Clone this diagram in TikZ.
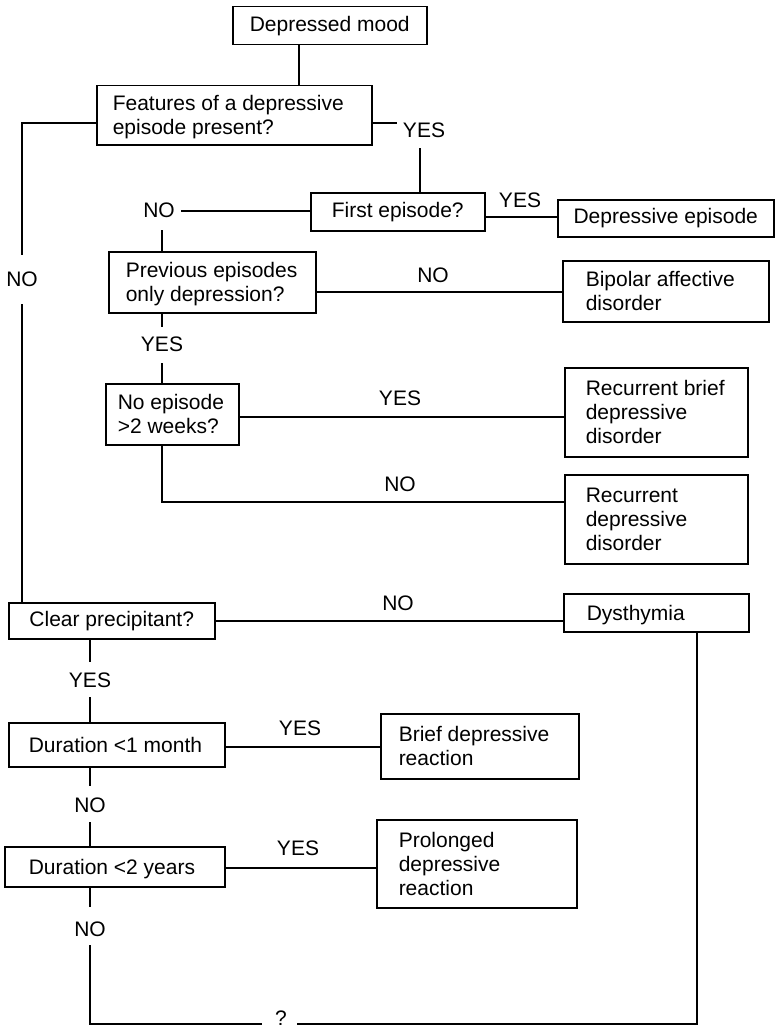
\documentclass[tikz,border=0pt]{standalone}
\usepackage{fontspec}
\setmainfont{Liberation Sans}
% box with left-aligned lines: name, x1, y1, x2, y2, left padding, lines
\newcommand{\fcbox}[7]{%
  \node[fcb, minimum width={(#4)-(#2)}, minimum height={(#5)-(#3)}] (#1) at (#2,#3)
    {\raisebox{-2.7pt}[\height][\depth]{\makebox[\dimexpr #4pt-#2pt-#6pt-#6pt\relax][l]{\begin{tabular}{@{}l@{}}#7\end{tabular}}}};}
% box with one centred line: name, x1, y1, x2, y2, text
\newcommand{\fcboxc}[6]{%
  \node[fcb, minimum width={(#4)-(#2)}, minimum height={(#5)-(#3)}] (#1) at (#2,#3) {#6};}
\begin{document}
\begin{tikzpicture}[x=1pt,y=-1pt,
  every node/.style={font=\fontsize{21pt}{24pt}\selectfont},
  fcb/.style={draw, line width=1.5pt, rectangle, inner sep=0pt, anchor=north west},
  lbl/.style={inner sep=0pt},
  conn/.style={line width=1.5pt}]
\useasboundingbox[fill=white] (0,0) rectangle (777,1030);

% ---- boxes ----
\fcboxc{mood}{232}{6}{426}{44}{Depressed mood}
\fcbox{feat}{96}{85}{371}{144}{16}{Features of a depressive\\episode present?}
\fcboxc{first}{310}{192}{484}{230}{First episode?}
\fcboxc{depep}{557}{199}{773}{236}{Depressive episode}
\fcbox{prev}{108}{251}{315}{312}{17}{Previous episodes\\only depression?}
\fcbox{bip}{562}{260}{768}{321}{23}{Bipolar affective\\disorder}
\fcbox{noep}{105}{383}{238}{444}{12}{No episode\\>2 weeks?}
\fcbox{recb}{564}{367}{747}{456}{21}{Recurrent brief\\depressive\\disorder}
\fcbox{recd}{564}{474}{747}{563}{21}{Recurrent\\depressive\\disorder}
\fcboxc{clear}{8}{602}{214}{638}{Clear precipitant?}
\fcbox{dys}{563}{593}{748}{631}{23}{Dysthymia}
\fcbox{dur1}{8}{722}{224}{766}{20}{Duration <1 month}
\fcbox{brief}{380}{713}{578}{778}{18}{Brief depressive\\reaction}
\fcbox{dur2}{4}{846}{224}{886}{24}{Duration <2 years}
\fcbox{prol}{376}{819}{576}{907}{22}{Prolonged\\depressive\\reaction}

% ---- branch labels ----
\node[lbl] (noL)   at (22,279)  {NO};
\node[lbl] (yesF)  at (424,130) {YES};
\node[lbl] (noF)   at (159,210) {NO};
\node[lbl] (yesE)  at (520,200) {YES};
\node[lbl] (noP)   at (433,275) {NO};
\node[lbl] (yesP)  at (162,344) {YES};
\node[lbl] (yesN)  at (400,398) {YES};
\node[lbl] (noN)   at (400,484) {NO};
\node[lbl] (noC)   at (398,603) {NO};
\node[lbl] (yesC)  at (90,680)  {YES};
\node[lbl] (yesD1) at (300,728) {YES};
\node[lbl] (noD1)  at (90,805)  {NO};
\node[lbl] (yesD2) at (298,848) {YES};
\node[lbl] (noD2)  at (90,929)  {NO};
\node[lbl] (qm)    at (281,1018) {?};

% ---- bend and end points ----
\coordinate (xM)  at (299,0);
\coordinate (pL1) at (22,123);
\coordinate (pL2) at (22,255);
\coordinate (pL3) at (22,304);
\coordinate (pR1) at (397,123);
\coordinate (pR2) at (420,148);
\coordinate (pF1) at (181,211);
\coordinate (pF2) at (162,230);
\coordinate (pE)  at (0,217);
\coordinate (pP)  at (0,292);
\coordinate (pP1) at (162,327);
\coordinate (pP2) at (162,363);
\coordinate (pN)  at (0,417);
\coordinate (pN2) at (162,502);
\coordinate (pC1) at (90,662);
\coordinate (pC2) at (90,697);
\coordinate (pD1) at (0,747);
\coordinate (pD2) at (90,786);
\coordinate (pD3) at (90,822);
\coordinate (pD4) at (0,868);
\coordinate (pD5) at (90,907);
\coordinate (pD6) at (90,945);
\coordinate (pB1) at (90,1024);
\coordinate (pB2) at (262,1024);
\coordinate (pB3) at (297,1024);
\coordinate (pB4) at (697,1024);

% ---- connectors ----
\draw[conn] (mood.south -| xM) -- (feat.north -| xM);
\draw[conn] (feat.west |- pL1) -- (pL1) -- (pL2);
\draw[conn] (pL3) -- (clear.north -| pL3);
\draw[conn] (feat.east |- pR1) -- (pR1);
\draw[conn] (pR2) -- (first.north -| pR2);
\draw[conn] (pF1) -- (first.west |- pF1);
\draw[conn] (pF2) -- (prev.north -| pF2);
\draw[conn] (first.east |- pE) -- (depep.west |- pE);
\draw[conn] (prev.east |- pP) -- (bip.west |- pP);
\draw[conn] (prev.south -| pP1) -- (pP1);
\draw[conn] (pP2) -- (noep.north -| pP2);
\draw[conn] (noep.east |- pN) -- (recb.west |- pN);
\draw[conn] (noep.south -| pN2) -- (pN2) -- (recd.west |- pN2);
\draw[conn] (clear.east) -- (dys.west |- clear.east);
\draw[conn] (clear.south -| pC1) -- (pC1);
\draw[conn] (pC2) -- (dur1.north -| pC2);
\draw[conn] (dur1.east |- pD1) -- (brief.west |- pD1);
\draw[conn] (dur1.south -| pD2) -- (pD2);
\draw[conn] (pD3) -- (dur2.north -| pD3);
\draw[conn] (dur2.east |- pD4) -- (prol.west |- pD4);
\draw[conn] (dur2.south -| pD5) -- (pD5);
\draw[conn] (pD6) -- (pB1) -- (pB2);
\draw[conn] (pB3) -- (pB4) -- (dys.south -| pB4);
\end{tikzpicture}
\end{document}
